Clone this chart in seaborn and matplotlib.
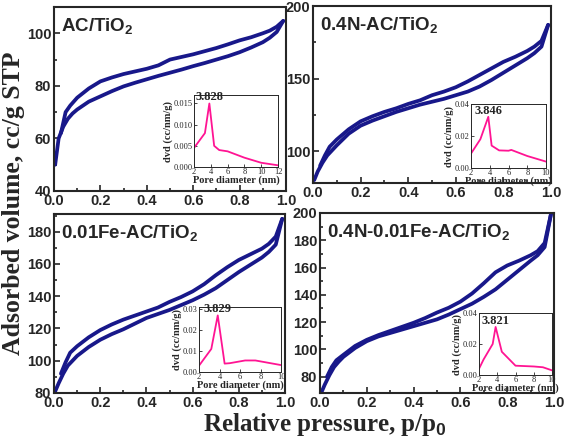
import matplotlib
matplotlib.use("Agg")
import matplotlib.pyplot as plt
import seaborn as sns
from matplotlib.ticker import MultipleLocator, FormatStrFormatter

# isotherm data (adsorption = lower, desorption = upper branch)
p_ads = [0.005, 0.02, 0.04, 0.06, 0.08, 0.1, 0.15, 0.2, 0.25, 0.3, 0.35, 0.4, 0.45,
         0.5, 0.55, 0.6, 0.65, 0.7, 0.75, 0.8, 0.85, 0.9, 0.93, 0.96, 0.988]
p_des = [0.03, 0.05, 0.07, 0.1, 0.15, 0.2, 0.25, 0.3, 0.35, 0.4, 0.45, 0.5,
         0.55, 0.6, 0.65, 0.7, 0.75, 0.8, 0.85, 0.9, 0.93, 0.96, 0.988]

ac_ads = [50, 60, 64.5, 67.5, 69.5, 71, 74, 76, 78, 79.8, 81.2, 82.5, 83.8,
          85, 86.2, 87.5, 88.7, 90, 91.3, 92.8, 94.6, 96.6, 98.3, 100.5, 104.7]
ac_des = [62, 70, 72.5, 75.5, 79, 81.7, 83.2, 84.5, 85.5, 86.5, 87.8, 90,
          91, 92, 93.2, 94.4, 95.8, 97.3, 98.5, 100, 101, 102.5, 104.7]

n_ads = [80, 86, 92, 97, 100.5, 104, 112, 117.5, 121, 124, 127, 129.5, 132,
         134, 136, 138.5, 141, 144.5, 149, 154, 159, 164, 167.5, 172, 187]
n_des = [90, 97, 103, 108, 115, 120.5, 124, 127, 129.5, 132.5, 135, 138.5,
         141, 144, 148, 152.5, 157, 161.5, 165, 169, 172, 176, 187]

fe_ads = [81, 86, 92, 97, 100, 103, 108.5, 113, 116.5, 119.5, 123, 126.5, 129,
          131.5, 134.5, 137.5, 141, 145, 150, 155, 159.5, 164, 167.5, 172, 188]
fe_des = [92, 99, 105, 109, 114.5, 119, 122.5, 125.5, 128, 130.5, 133, 136.5,
          139.5, 143, 147.5, 153, 158, 162.5, 166, 169.5, 172.5, 177, 188]

nfe_ads = [68, 74, 81, 87, 91, 94.5, 101, 106, 109.5, 112, 114.5, 117, 119.5,
           122, 125.5, 129.5, 133.5, 138.5, 144, 151, 158, 165, 169, 175, 200]
nfe_des = [80, 87, 92, 96, 102.5, 107, 110.5, 113.5, 116.5, 119.5, 123, 127,
           130.5, 135, 141, 148.5, 156.5, 161.5, 165, 169, 172, 178, 200]

# pore size distributions (insets)
d1 = [2, 3.3, 3.828, 4.4, 5, 6, 8, 10, 12]
v1 = [0.0045, 0.008, 0.015, 0.005, 0.004, 0.0037, 0.0022, 0.001, 0.0004]
d2 = [2, 3, 3.846, 4.2, 5, 6, 6.3, 8, 10]
v2 = [0.009, 0.018, 0.032, 0.014, 0.011, 0.0108, 0.0113, 0.0075, 0.004]
d3 = [2, 3.2, 3.829, 4.5, 5, 6.5, 7.5, 10]
v3 = [0.003, 0.011, 0.027, 0.004, 0.0042, 0.0055, 0.0055, 0.0033]
d4 = [2, 2.5, 3.5, 3.821, 4.5, 6, 8, 9, 10]
v4 = [0.004, 0.01, 0.02, 0.031, 0.015, 0.006, 0.0055, 0.005, 0.003]

names = ["AC/TiO$_2$", "0.4N-AC/TiO$_2$", "0.01Fe-AC/TiO$_2$", "0.4N-0.01Fe-AC/TiO$_2$"]
peaks = ["3.828", "3.846", "3.829", "3.821"]

sns.set_style("ticks")
plt.rcParams['font.family'] = ['Liberation Sans', 'DejaVu Sans']
plt.rcParams['mathtext.fontset'] = 'custom'
plt.rcParams['mathtext.rm'] = 'Liberation Sans:bold'
plt.rcParams['mathtext.it'] = 'Liberation Sans:bold'
plt.rcParams['mathtext.bf'] = 'Liberation Sans:bold'

W, H = 567, 444
fig = plt.figure(figsize=(5.67, 4.44), dpi=100)

def box(x0, y0, x1, y1):
    # pixel box -> figure fraction
    return [x0 / W, 1 - y1 / H, (x1 - x0) / W, (y1 - y0) / H]

navy = "#18188a"
pink = "#ff1493"

panels = [
    (box(54, 7, 286, 191), ac_ads, ac_des, (40, 110), 20, 10, box(194, 95, 278, 167), d1, v1, 12, (0, 0.017), 0.005, "%.3f"),
    (box(313, 6, 551, 183), n_ads, n_des, (78, 200), 50, 25, box(471, 104, 546, 168), d2, v2, 10, (0, 0.04), 0.02, "%.2f"),
    (box(54, 214, 285, 393), fe_ads, fe_des, (80, 191), 20, 10, box(199, 307, 281, 372), d3, v3, 10, (0, 0.031), 0.01, "%.2f"),
    (box(320, 213, 554, 393), nfe_ads, nfe_des, (68, 200), 20, 10, box(479, 313, 552, 375), d4, v4, 10, (0, 0.04), 0.02, "%.2f"),
]

for i, (pos, ads, des, ylim, ymaj, ymin, ipos, dx, dy, xmax, iylim, iymaj, ifmt) in enumerate(panels):
    ax = fig.add_axes(pos)
    sns.lineplot(x=p_ads, y=ads, ax=ax, sort=False, color=navy, lw=2.7, solid_capstyle='round')
    sns.lineplot(x=p_des, y=des, ax=ax, sort=False, color=navy, lw=2.7, solid_capstyle='round')
    ax.set_xlim(0, 1.0)
    ax.set_ylim(*ylim)
    ax.xaxis.set_major_locator(MultipleLocator(0.2))
    ax.xaxis.set_minor_locator(MultipleLocator(0.1))
    ax.yaxis.set_major_locator(MultipleLocator(ymaj))
    ax.yaxis.set_minor_locator(MultipleLocator(ymin))
    ax.xaxis.set_major_formatter(FormatStrFormatter("%.1f"))
    ax.tick_params(which='both', direction='in', width=1.2, pad=2)
    ax.tick_params(which='major', length=4, labelsize=10.5)
    ax.tick_params(which='minor', length=2.5)
    for lab in ax.get_xticklabels() + ax.get_yticklabels():
        lab.set_fontweight('bold')
    for s in ax.spines.values():
        s.set_linewidth(1.5)
    ax.text(0.03, 0.95, names[i], transform=ax.transAxes, ha='left', va='top',
            fontsize=13.5, fontweight='bold')

    ins = fig.add_axes(ipos)
    sns.lineplot(x=dx, y=dy, ax=ins, sort=False, color=pink, lw=1.3)
    ins.set_xlim(2, xmax)
    ins.set_ylim(*iylim)
    ins.xaxis.set_major_locator(MultipleLocator(2))
    ins.yaxis.set_major_locator(MultipleLocator(iymaj))
    ins.yaxis.set_major_formatter(FormatStrFormatter(ifmt))
    ins.tick_params(which='both', direction='in', length=2, width=0.6, pad=1, labelsize=6)
    for lab in ins.get_xticklabels() + ins.get_yticklabels():
        lab.set_family('Liberation Serif')
    for s in ins.spines.values():
        s.set_linewidth(0.7)
    ins.set_xlabel("Pore diameter (nm)", family='Liberation Serif', fontsize=7.5, fontweight='bold', labelpad=-0.5)
    ins.set_ylabel("dvd (cc/nm/g)", family='Liberation Serif', fontsize=7.5, fontweight='bold', labelpad=0.5)
    k = dy.index(max(dy))
    ins.text(dx[k], dy[k], peaks[i], ha='center', va='bottom', family='Liberation Serif',
             fontsize=9, fontweight='bold')

fig.text(0.024, 0.543, "Adsorbed volume, cc/g STP", rotation=90, ha='center', va='center',
         family='Liberation Serif', fontsize=18.5, fontweight='bold')
fig.text(0.573, 0.043, "Relative pressure, p/p$_0$", ha='center', va='center',
         family='Liberation Serif', fontsize=18, fontweight='bold')

fig.savefig("out.png", dpi=100)
